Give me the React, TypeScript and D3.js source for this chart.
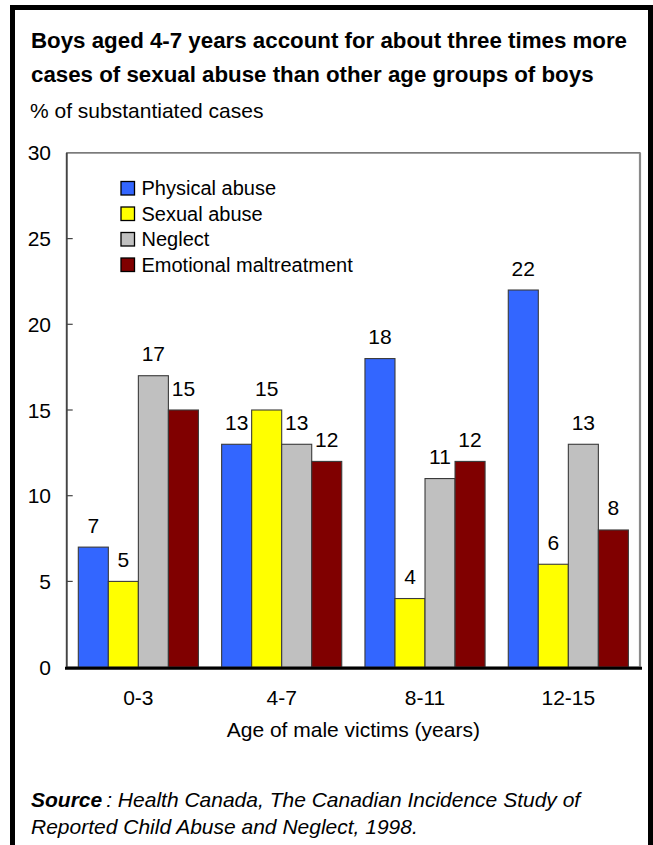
import React from "react";
import * as d3 from "d3";

const categories = ["0-3", "4-7", "8-11", "12-15"];
const seriesNames = ["Physical abuse", "Sexual abuse", "Neglect", "Emotional maltreatment"];
const physical = [7, 13, 18, 22];
const sexual = [5, 15, 4, 6];
const neglect = [17, 13, 11, 13];
const emotional = [15, 12, 12, 8];
const colors = ["#3366FF", "#FFFF00", "#C0C0C0", "#800000"];
const yTicks = [0, 5, 10, 15, 20, 25, 30];

const titleLines = [
  "Boys aged 4-7 years account for about three times more",
  "cases of sexual abuse than other age groups of boys",
];
const subtitle = "% of substantiated cases";
const xTitle = "Age of male victims (years)";
const sourceBold = "Source";
const sourceLine1 = ": Health Canada, The Canadian Incidence Study of";
const sourceLine2 = "Reported Child Abuse and Neglect, 1998.";

const W = 653;
const H = 845;
const FONT = "'Liberation Sans', Arial, Helvetica, sans-serif";

export default function App() {
  const series = [physical, sexual, neglect, emotional];
  const left = 66.7;
  const right = 640;
  const top = 152.9;
  const bottom = 667.1;

  const x0 = d3
    .scaleBand<string>()
    .domain(categories)
    .range([left, right])
    .paddingInner(0.162)
    .paddingOuter(0.081);
  const x1 = d3
    .scaleBand<string>()
    .domain(seriesNames)
    .range([0, x0.bandwidth()])
    .padding(0);
  const y = d3.scaleLinear().domain([0, 30]).range([bottom, top]);

  return (
    <div style={{ position: "absolute", left: 0, top: 0, width: W, height: H, background: "#fff" }}>
      <svg width={W} height={H} style={{ display: "block" }} fontFamily={FONT}>
        <rect x={0} y={0} width={W} height={H} fill="#fff" />
        {/* outer frame */}
        <rect x={12.5} y={7.5} width={638} height={860} fill="none" stroke="#000" strokeWidth={5} />

        {/* title */}
        {titleLines.map((t, i) => (
          <text key={i} x={31} y={48 + i * 33.5} fontSize={22.3} fontWeight="bold" fill="#000">
            {t}
          </text>
        ))}
        <text x={30} y={117.5} fontSize={21} fill="#000">
          {subtitle}
        </text>

        {/* plot frame */}
        <rect x={left} y={top} width={right - left} height={bottom - top} fill="#fff" stroke="#444" strokeWidth={1.2} />
        <line x1={right} x2={right} y1={top} y2={bottom} stroke="#8a8a8a" strokeWidth={2.2} />
        <line x1={left} x2={left} y1={top} y2={bottom} stroke="#444" strokeWidth={1.8} />

        {/* y ticks */}
        {yTicks.map((t) => (
          <g key={t}>
            {t > 0 && t < 30 && (
              <line x1={left} x2={left + 6} y1={y(t)} y2={y(t)} stroke="#444" strokeWidth={1.2} />
            )}
            <text x={51} y={y(t) + 7.5} fontSize={21} textAnchor="end" fill="#000">
              {t}
            </text>
          </g>
        ))}

        {/* bars */}
        {categories.map((c, ci) => (
          <g key={c} transform={`translate(${x0(c)},0)`}>
            {seriesNames.map((s, si) => {
              const v = series[si][ci];
              const bx = x1(s) as number;
              const bw = x1.bandwidth();
              return (
                <g key={s}>
                  <rect
                    x={bx}
                    y={y(v)}
                    width={bw}
                    height={y(0) - y(v)}
                    fill={colors[si]}
                    stroke="#3a3a3a"
                    strokeWidth={1.1}
                  />
                  <text x={bx + bw / 2} y={y(v) - 14.5} fontSize={21} textAnchor="middle" fill="#000">
                    {v}
                  </text>
                </g>
              );
            })}
          </g>
        ))}

        {/* zero line */}
        <line x1={65} x2={642} y1={y(0) + 1.2} y2={y(0) + 1.2} stroke="#000" strokeWidth={3} />

        {/* x labels */}
        {categories.map((c) => (
          <text
            key={c}
            x={(x0(c) as number) + x0.bandwidth() / 2}
            y={705}
            fontSize={21}
            textAnchor="middle"
            fill="#000"
          >
            {c}
          </text>
        ))}
        <text x={(left + right) / 2} y={736.5} fontSize={21} textAnchor="middle" fill="#000">
          {xTitle}
        </text>

        {/* legend */}
        {seriesNames.map((s, i) => {
          const by = 195 + i * 25.5;
          return (
            <g key={s}>
              <rect x={121} y={by - 13.5} width={13.5} height={13.5} fill={colors[i]} stroke="#000" strokeWidth={1.3} />
              <text x={141.5} y={by} fontSize={20} fill="#000">
                {s}
              </text>
            </g>
          );
        })}

        {/* source */}
        <text x={31} y={807} fontSize={21} fill="#000" fontStyle="italic">
          <tspan fontWeight="bold">{sourceBold}</tspan>
          <tspan dx={4}>{sourceLine1}</tspan>
        </text>
        <text x={31} y={834} fontSize={21} fill="#000" fontStyle="italic">
          {sourceLine2}
        </text>
      </svg>
    </div>
  );
}
